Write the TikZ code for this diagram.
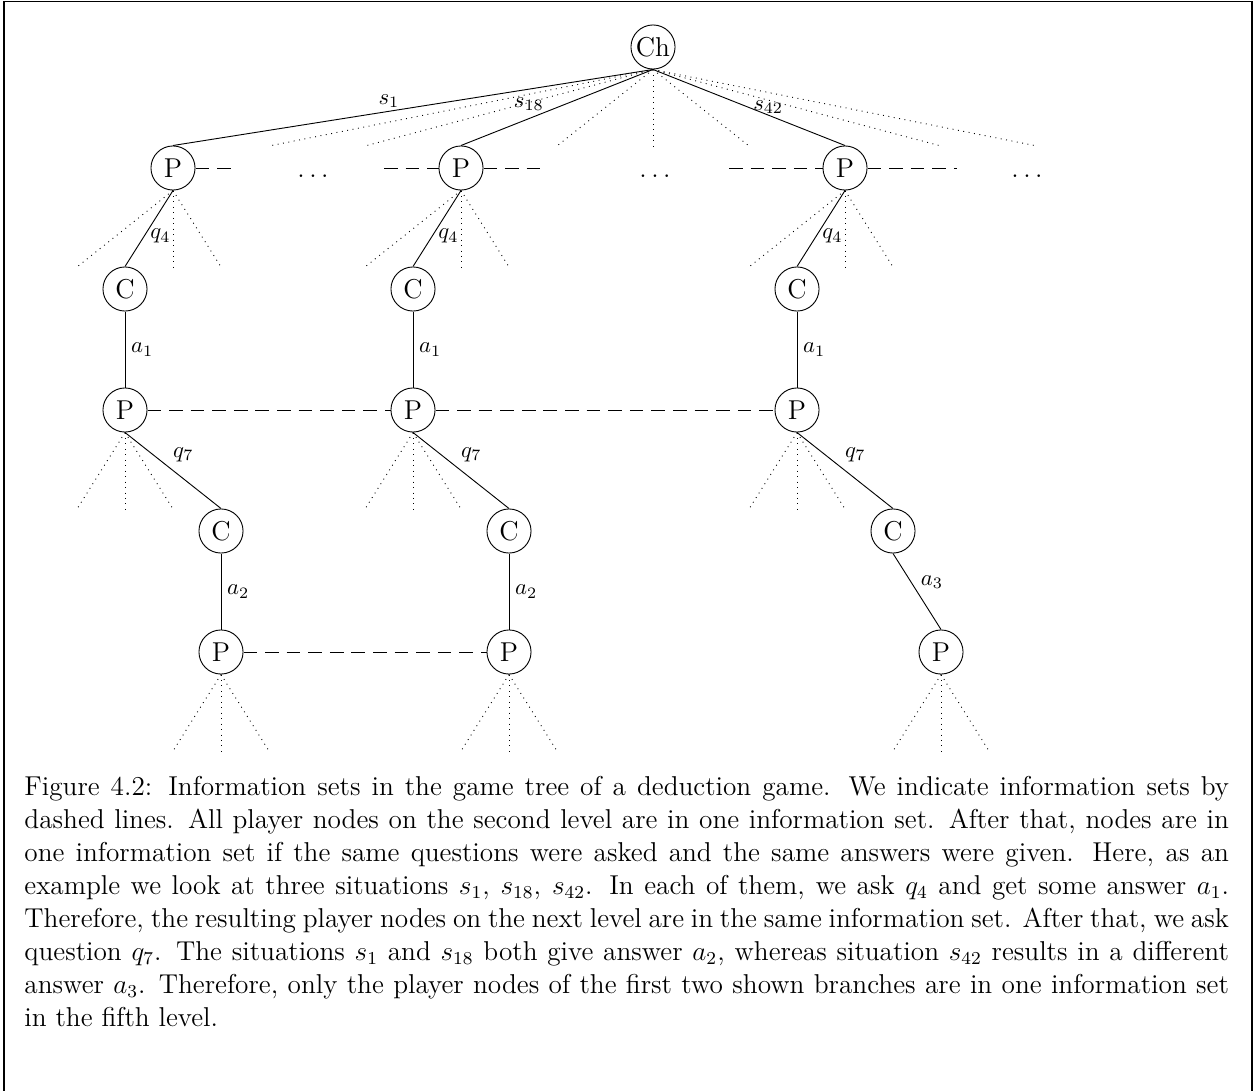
\documentclass[tikz,border=0pt]{standalone}
\begin{document}
\begin{tikzpicture}[x=0.44pt,y=-0.44pt,
  every node/.style={font=\fontsize{12}{14.5}\selectfont},
  gnode/.style={circle,draw,minimum size=19.4pt,inner sep=0pt},
  move/.style={line width=0.4pt},
  hidden/.style={dotted},
  infoset/.style={dash pattern=on 6pt off 3.5pt},
  lbl/.style={font=\fontsize{10}{12}\selectfont,inner sep=2.5pt}]
\useasboundingbox (0,0) rectangle (1259,1090);

% frame
\draw[line width=0.5pt] (4,1092) -- (4,1.5) -- (1252,1.5) -- (1252,1092);

% root
\node[gnode] (ch) at (653,47) {Ch};

% second level
\node[gnode] (p1) at (173,168) {P};
\node[gnode] (p2) at (461,168) {P};
\node[gnode] (p3) at (845,168) {P};
\foreach \x [count=\i] in {269,365,557,653,749,941,1037}
  \coordinate (u\i) at (\x,146);
\foreach \i in {1,...,7}
  \draw[hidden] (ch.south) -- (u\i);
\draw[move] (ch.south) -- node[lbl,above,pos=0.55,inner sep=1.5pt]{$s_1$} (p1.north);
\draw[move] (ch.south) -- node[lbl,above left,pos=0.56,inner sep=0.5pt]{$s_{18}$} (p2.north);
\draw[move] (ch.south) -- node[lbl,above,pos=0.6,inner sep=0.5pt]{$s_{42}$} (p3.north);

\node (d1) at (313,176) {$\ldots$};
\node (d2) at (655,176) {$\ldots$};
\node (d3) at (1027,176) {$\ldots$};
\coordinate (e1) at (232,168);
\coordinate (e2) at (384,168);
\coordinate (e3) at (545,168);
\coordinate (e4) at (729,168);
\coordinate (e5) at (957,168);
\draw[infoset] (p1.east) -- (e1);
\draw[infoset] (e2) -- (p2.west);
\draw[infoset] (p2.east) -- (e3);
\draw[infoset] (e4) -- (p3.west);
\draw[infoset] (p3.east) -- (e5);

% third level: chance nodes after asking q4
\node[gnode] (c1) at (125,289) {C};
\node[gnode] (c2) at (413,289) {C};
\node[gnode] (c3) at (797,289) {C};
\foreach \p/\x [count=\i] in {p1/173,p2/461,p3/845}{
  \coordinate (v\i a) at (\x-96,267);
  \coordinate (v\i b) at (\x,267);
  \coordinate (v\i c) at (\x+48,267);
  \draw[hidden] (\p.south) -- (v\i a);
  \draw[hidden] (\p.south) -- (v\i b);
  \draw[hidden] (\p.south) -- (v\i c);
}
\draw[move] (p1.south) -- node[lbl,right,pos=0.6]{$q_4$} (c1.north);
\draw[move] (p2.south) -- node[lbl,right,pos=0.6]{$q_4$} (c2.north);
\draw[move] (p3.south) -- node[lbl,right,pos=0.6]{$q_4$} (c3.north);

% fourth level
\node[gnode] (r1) at (125,410) {P};
\node[gnode] (r2) at (413,410) {P};
\node[gnode] (r3) at (797,410) {P};
\draw[move] (c1.south) -- node[lbl,right]{$a_1$} (r1.north);
\draw[move] (c2.south) -- node[lbl,right]{$a_1$} (r2.north);
\draw[move] (c3.south) -- node[lbl,right]{$a_1$} (r3.north);
\draw[infoset] (r1.east) -- (r2.west);
\draw[infoset] (r2.east) -- (r3.west);
\foreach \p/\x [count=\i] in {r1/125,r2/413,r3/797}{
  \coordinate (w\i a) at (\x-48,509);
  \coordinate (w\i b) at (\x,509);
  \coordinate (w\i c) at (\x+48,509);
  \draw[hidden] (\p.south) -- (w\i a);
  \draw[hidden] (\p.south) -- (w\i b);
  \draw[hidden] (\p.south) -- (w\i c);
}

% fifth level: chance nodes after asking q7
\node[gnode] (k1) at (221,531) {C};
\node[gnode] (k2) at (509,531) {C};
\node[gnode] (k3) at (893,531) {C};
\draw[move] (r1.south) -- node[lbl,above right,pos=0.45,inner sep=2pt]{$q_7$} (k1.north);
\draw[move] (r2.south) -- node[lbl,above right,pos=0.45,inner sep=2pt]{$q_7$} (k2.north);
\draw[move] (r3.south) -- node[lbl,above right,pos=0.45,inner sep=2pt]{$q_7$} (k3.north);

% sixth level
\node[gnode] (t1) at (221,652) {P};
\node[gnode] (t2) at (509,652) {P};
\node[gnode] (t3) at (941,652) {P};
\draw[move] (k1.south) -- node[lbl,right]{$a_2$} (t1.north);
\draw[move] (k2.south) -- node[lbl,right]{$a_2$} (t2.north);
\draw[move] (k3.south) -- node[lbl,right,pos=0.38,inner sep=4pt]{$a_3$} (t3.north);
\draw[infoset] (t1.east) -- (t2.west);
\foreach \p/\x [count=\i] in {t1/221,t2/509,t3/941}{
  \coordinate (z\i a) at (\x-48,751);
  \coordinate (z\i b) at (\x,751);
  \coordinate (z\i c) at (\x+48,751);
  \draw[hidden] (\p.south) -- (z\i a);
  \draw[hidden] (\p.south) -- (z\i b);
  \draw[hidden] (\p.south) -- (z\i c);
}

% caption
\node[anchor=north west,inner sep=0pt,text width=530pt,align=justify] (cap) at (24,776)
{Figure 4.2: Information sets in the game tree of a deduction game. We indicate information sets by\linebreak
dashed lines. All player nodes on the second level are in one information set. After that, nodes are in\linebreak
one information set if the same questions were asked and the same answers were given. Here, as an\linebreak
example we look at three situations $s_1$, $s_{18}$, $s_{42}$. In each of them, we ask $q_4$ and get some answer $a_1$.\linebreak
Therefore, the resulting player nodes on the next level are in the same information set. After that, we ask\linebreak
question $q_7$. The situations $s_1$ and $s_{18}$ both give answer $a_2$, whereas situation $s_{42}$ results in a different\linebreak
answer $a_3$. Therefore, only the player nodes of the first two shown branches are in one information set\linebreak
in the fifth level.};
\end{tikzpicture}
\end{document}
